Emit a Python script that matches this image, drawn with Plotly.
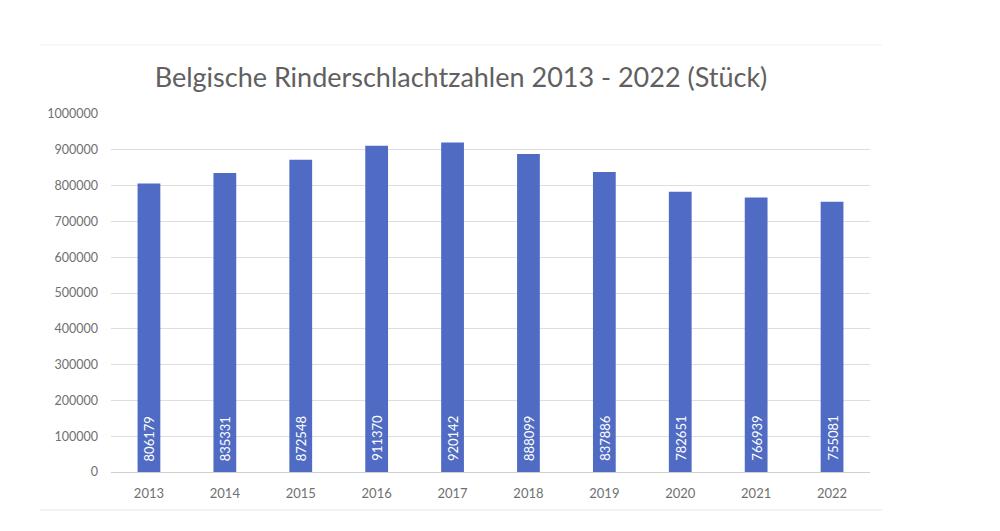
import plotly.graph_objects as go

years = ["2013", "2014", "2015", "2016", "2017", "2018", "2019", "2020", "2021", "2022"]
slaughter_counts = [806179, 835331, 872548, 911370, 920142, 888099, 837886, 782651, 766939, 755081]
title_text = "Belgische Rinderschlachtzahlen 2013 - 2022 (Stück)"
y_ticks = [0, 100000, 200000, 300000, 400000, 500000, 600000, 700000, 800000, 900000, 1000000]

FONT = "Lato"
GREY = "#606060"
TICK_GREY = "#707070"

fig = go.Figure(
    go.Bar(
        x=years,
        y=slaughter_counts,
        width=0.3,
        marker=dict(color="#4f6bc3", line=dict(width=0)),
        hoverinfo="x+y",
    )
)

for i, v in enumerate(slaughter_counts):
    fig.add_annotation(
        x=i, y=0, text=str(v), textangle=-90, showarrow=False,
        xanchor="center", yanchor="bottom", yshift=9,
        font=dict(family=FONT, size=13, color="white"),
    )

L, R, T, B = 111, 130, 114, 59
plot_w = 1000 - L - R
plot_h = 531 - T - B

def px_x(px):
    return (px - L) / plot_w

def px_y(py):
    return (531 - B - py) / plot_h

fig.update_layout(
    width=1000,
    height=531,
    margin=dict(l=L, r=R, t=T, b=B),
    paper_bgcolor="white",
    plot_bgcolor="white",
    showlegend=False,
    title=dict(
        text=title_text,
        x=461 / 1000,
        xanchor="center",
        y=1 - 78 / 531,
        yanchor="middle",
        font=dict(family=FONT, size=27, color=GREY),
    ),
    xaxis=dict(
        type="category",
        range=[-0.5, len(years) - 0.5],
        showgrid=False,
        showline=False,
        ticks="",
        ticklabelstandoff=12,
        tickfont=dict(family=FONT, size=13, color=TICK_GREY),
    ),
    yaxis=dict(
        range=[0, 1000000],
        tickvals=y_ticks,
        tickformat="d",
        showgrid=True,
        gridcolor="#dedede",
        gridwidth=1,
        zeroline=True,
        zerolinecolor="#d0d0d0",
        zerolinewidth=1,
        showline=False,
        ticks="",
        ticklabelstandoff=12,
        tickfont=dict(family=FONT, size=12.5, color=TICK_GREY),
    ),
    shapes=[
        dict(type="line", xref="paper", yref="paper",
             x0=px_x(40), x1=px_x(882), y0=px_y(45), y1=px_y(45),
             line=dict(color="#f0f0f0", width=1)),
        dict(type="line", xref="paper", yref="paper",
             x0=px_x(40), x1=px_x(882), y0=px_y(510), y1=px_y(510),
             line=dict(color="#e6e6e6", width=1)),
    ],
)

fig.write_html("out.html")
